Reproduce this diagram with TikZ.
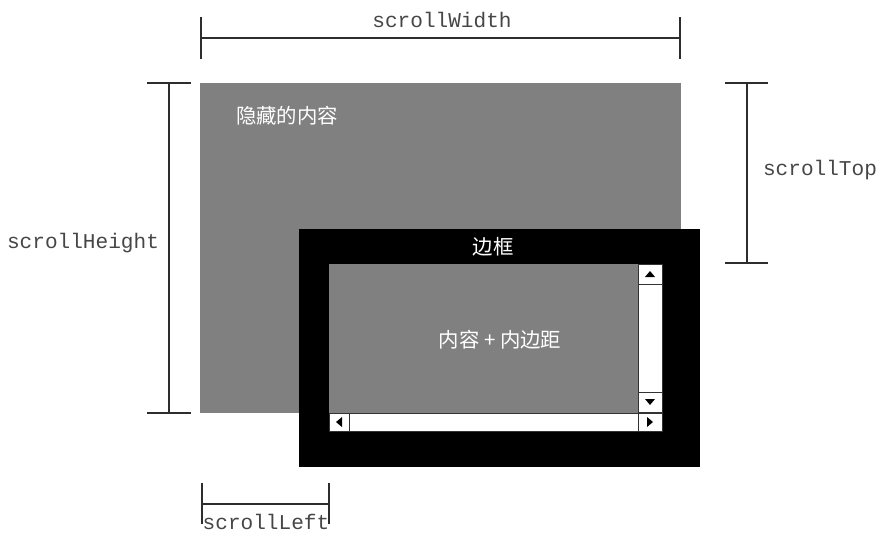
\documentclass[tikz,border=0pt]{standalone}
\usepackage{fontspec}
\setmonofont{Liberation Mono}
\newfontfamily\cjk{Noto Sans CJK SC}
\usetikzlibrary{positioning}
\definecolor{hiddengray}{RGB}{128,128,128}
\definecolor{dimline}{RGB}{45,45,45}
\definecolor{dimtext}{RGB}{70,70,70}

\tikzset{
  dimbar/.style={draw=dimline, line width=1.3pt},
  dimlabel/.style={font=\ttfamily\fontsize{15}{18}\selectfont, text=dimtext, inner sep=0pt},
  cnlabel/.style={font=\cjk\fontsize{14.5}{17}\selectfont, text=white, inner sep=0pt},
  sbtrack/.style={fill=white, draw=black!80, line width=0.6pt},
  sbarrow/.style={fill=black, draw=none}
}

\begin{document}
\begin{tikzpicture}[x=0.025cm, y=-0.025cm]
\useasboundingbox (0,0) rectangle (879,533);

% hidden content
\fill[hiddengray] (200,83) rectangle (681,413);
\node[cnlabel] (hidden) at (287,116) {隐藏的内容};

% border + client area
\fill[black] (299,229) rectangle (700,467);
\fill[hiddengray] (329,264) rectangle (638,413);
\node[cnlabel] (border) at (493,247) {边框};
\node[cnlabel] (client) at (500,340) {内容 + 内边距};

% scroll bars
\draw[sbtrack] (638,264) rectangle (662,412);
\draw[sbtrack] (638,264) rectangle (662,284);
\draw[sbtrack] (638,392) rectangle (662,412);
\draw[sbtrack] (329,413) rectangle (638,431);
\draw[sbtrack] (329,413) rectangle (349,431);
\draw[sbtrack] (638,413) rectangle (662,431);
\fill[sbarrow] (645,277) -- (655,277) -- (650,271) -- cycle;
\fill[sbarrow] (645,399) -- (655,399) -- (650,405) -- cycle;
\fill[sbarrow] (336,422) -- (342,417) -- (342,427) -- cycle;
\fill[sbarrow] (653,422) -- (647,417) -- (647,427) -- cycle;

% scrollWidth
\coordinate (sw-l) at (201,38);
\coordinate (sw-r) at (680,38);
\draw[dimbar] (sw-l) -- (sw-r);
\draw[dimbar] ([yshift=21*0.025cm]sw-l) -- ([yshift=-21*0.025cm]sw-l);
\draw[dimbar] ([yshift=21*0.025cm]sw-r) -- ([yshift=-21*0.025cm]sw-r);
\node[dimlabel] (swlabel) at (442,20) {scrollWidth};

% scrollHeight
\coordinate (sh-t) at (169,83);
\coordinate (sh-b) at (169,413);
\draw[dimbar] (sh-t) -- (sh-b);
\draw[dimbar] ([xshift=-22*0.025cm]sh-t) -- ([xshift=22*0.025cm]sh-t);
\draw[dimbar] ([xshift=-22*0.025cm]sh-b) -- ([xshift=22*0.025cm]sh-b);
\node[dimlabel] (shlabel) at (83,243) {scrollHeight};

% scrollTop
\coordinate (st-t) at (747,83);
\coordinate (st-b) at (747,263);
\draw[dimbar] (st-t) -- (st-b);
\draw[dimbar] ([xshift=-22*0.025cm]st-t) -- ([xshift=21*0.025cm]st-t);
\draw[dimbar] ([xshift=-22*0.025cm]st-b) -- ([xshift=21*0.025cm]st-b);
\node[dimlabel] (stlabel) at (820,170) {scrollTop};

% scrollLeft
\coordinate (sl-l) at (202,504);
\coordinate (sl-r) at (329,504);
\draw[dimbar] (sl-l) -- (sl-r);
\draw[dimbar] ([yshift=21*0.025cm]sl-l) -- ([yshift=-20*0.025cm]sl-l);
\draw[dimbar] ([yshift=21*0.025cm]sl-r) -- ([yshift=-20*0.025cm]sl-r);
\node[dimlabel] (sllabel) at (266,522) {scrollLeft};
\end{tikzpicture}
\end{document}
